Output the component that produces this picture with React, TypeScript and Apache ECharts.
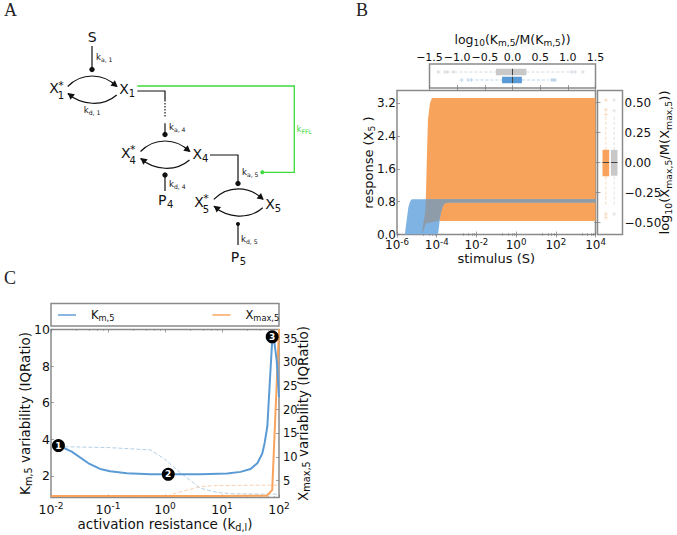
import React, { useEffect, useRef } from "react";
import * as echarts from "echarts";

const FONT = "DejaVu Sans";
const BLUE = "#5b9bd5";
const LIGHT_BLUE = "#7fb3e3";
const ORANGE = "#f7a35c";
const GREY = "#c8c8c8";
const OVERLAP = "#8e9ba8";
const FRAME = "#8a8a8a";
const GREEN = "#3ddc3d";
const INK = "#111";

// Panel B: response bands, rows of [stimulus, low, high]
const orangeBand = [[1.82e-5,0,0],[2.16e-5,0.1,0.3],[2.57e-5,0.2,0.5],[2.88e-5,0.27,1.0],[3.24e-5,0.3,2.0],[3.63e-5,0.32,2.8],[4.57e-5,0.33,3.2],[5.75e-5,0.33,3.33],[1e4,0.33,3.33]];
const blueBand = [[2.5e-6,0,0],[2.8e-6,0,0.2],[3.7e-6,0,0.65],[4.5e-6,0,0.8],[5.5e-6,0,0.86],[1.17e-4,0,0.86],[1.48e-4,0.42,0.86],[1.66e-4,0.55,0.86],[2.09e-4,0.7,0.86],[2.63e-4,0.76,0.86],[3.72e-4,0.78,0.86],[1e4,0.78,0.86]];
const overlapBand = [[1.82e-5,0,0],[2.16e-5,0.1,0.3],[2.57e-5,0.2,0.5],[2.88e-5,0.27,0.86],[1.17e-4,0.33,0.86],[1.48e-4,0.42,0.86],[1.66e-4,0.55,0.86],[2.09e-4,0.7,0.86],[2.63e-4,0.76,0.86],[3.72e-4,0.78,0.86],[1e4,0.78,0.86]];

// Panel B marginal boxes: [whiskerLow, q1, median, q3, whiskerHigh, row]
const kmBoxes = [[-1.05,-0.3,0,0.25,1.05,2],[-0.67,-0.19,0,0.17,0.65,1]];
const xmaxBoxes = [[-0.35,-0.115,0,0.106,0.38,1],[-0.35,-0.11,0,0.105,0.38,2]];
const kmFliersGrey = [[-1.34,2],[-1.22,2],[-1.17,2],[-1.07,2],[1.07,2],[1.13,2],[1.27,2]];
const kmFliersBlue = [[-0.92,1],[-0.8,1],[-0.74,1],[0.71,1],[0.74,1],[0.77,1]];
const xmaxFliersOrange = [[1,0.52],[1,0.44],[1,0.4],[1,-0.43],[1,-0.46]];
const xmaxFliersGrey = [[2,0.52],[2,0.43],[2,-0.43]];

// Panel C: curves, rows of [resistance, variability]
const kmCurve = [[0.0135,3.66],[0.0231,3.33],[0.0454,2.69],[0.0728,2.38],[0.109,2.25],[0.214,2.15],[0.552,2.09],[1.16,2.09],[4.17,2.09],[12.3,2.13],[21.1,2.22],[31.6,2.38],[41.7,2.69],[50.9,3.22],[56,3.8],[62.4,4.7],[69.2,7.2],[76,9.4],[81.3,9.5],[91.2,8.3],[100,6.3]];
const xmaxCurve = [[0.01,1.76],[1,1.76],[10,1.76],[61,1.8],[76,3],[100,37]];
const kmDashed = [[0.0135,3.6],[0.1,3.55],[0.552,3.42],[0.95,2.96],[1.9,2.15],[4.17,1.33],[8.3,1.09],[16.6,1.02],[100,1.0]];
const xmaxDashed = [[1.08,1.75],[1.9,2.67],[4.17,3.73],[7.2,3.94],[100,4.08]];
const markers = [[0.0135,3.66,"1"],[1.14,2.09,"2"],[76,9.6,"3"]];

const xTicksKm = [-1.5, -1, -0.5, 0, 0.5, 1, 1.5];
const yTicksB = [0, 0.8, 1.6, 2.4, 3.2];
const yTicksBoxB = [-0.5, -0.25, 0, 0.25, 0.5];
const yTicksKm = [2, 4, 6, 8, 10];
const yTicksXmax = [5, 10, 15, 20, 25, 30, 35];

const richTxt = (size: number, color = INK) => ({
  t: { fontFamily: FONT, fontSize: size, color, lineHeight: size + 3, verticalAlign: "middle" },
  s: { fontFamily: FONT, fontSize: size * 0.72, color, lineHeight: size * 0.72 + 1, verticalAlign: "bottom" },
  u: { fontFamily: FONT, fontSize: size * 0.72, color, lineHeight: size * 0.72 + 1, verticalAlign: "top" },
  p: { width: 10, fontSize: size },
});

const powLabel = (v: number) => `{t|10}{u|${Math.round(Math.log10(v))}}`;
const minus = (v: number, d: number) => (v < 0 ? "\u2212" : "") + Math.abs(v).toFixed(d);

function band(color: string, data: number[][], name: string) {
  return {
    type: "custom", name, xAxisIndex: 0, yAxisIndex: 0, clip: true, data,
    encode: { x: 0, y: [1, 2] },
    renderItem: (p: any, api: any) => {
      if (p.dataIndex !== 0) return null;
      const up = data.map((r) => api.coord([r[0], r[2]]));
      const dn = data.map((r) => api.coord([r[0], r[1]])).reverse();
      return { type: "polygon", shape: { points: [...up, ...dn] }, style: { fill: color } };
    },
  };
}

function boxes(rows: number[][], horizontal: boolean, colors: string[], wColors: string[], half: number, x: number, y: number) {
  return {
    type: "custom", name: horizontal ? "Km box" : "Xmax box", xAxisIndex: x, yAxisIndex: y, data: rows,
    renderItem: (p: any, api: any) => {
      const r = rows[p.dataIndex];
      const pt = (v: number, off: number) => (horizontal ? api.coord([v, r[5] + off]) : api.coord([r[5] + off, v]));
      const a = pt(r[1], -half), b = pt(r[3], half);
      const m1 = pt(r[2], -half), m2 = pt(r[2], half);
      const w1 = pt(r[0], 0), w2 = pt(r[1], 0), w3 = pt(r[3], 0), w4 = pt(r[4], 0);
      const ln = (u: number[], v: number[], style: any) => ({ type: "line", shape: { x1: u[0], y1: u[1], x2: v[0], y2: v[1] }, style });
      const dash = { stroke: wColors[p.dataIndex], lineWidth: 0.8, lineDash: [3, 2] };
      return {
        type: "group",
        children: [
          ln(w1, w2, dash), ln(w3, w4, dash),
          { type: "rect", shape: { x: Math.min(a[0], b[0]), y: Math.min(a[1], b[1]), width: Math.abs(a[0] - b[0]), height: Math.abs(a[1] - b[1]) }, style: { fill: colors[p.dataIndex] } },
          ln(m1, m2, { stroke: "#444", lineWidth: 1 }),
        ],
      };
    },
  };
}

const plus = "path://M0 4H8M4 0V8";
const fliers = (data: number[][], color: string, x: number, y: number) => ({
  type: "scatter", name: "outliers", xAxisIndex: x, yAxisIndex: y, data, symbol: plus, symbolSize: 4,
  itemStyle: { color: "none", borderColor: color, borderWidth: 0.7, opacity: 1 },
});

const tick = { show: true, inside: true, length: 3, lineStyle: { color: "#777", width: 0.7 } };
const noLine = { show: false };
const nameFont = (size: number) => ({ fontFamily: FONT, fontSize: size, color: INK, rich: richTxt(size) });
const nameAt = (gap: number, size: number) => ({ nameLocation: "middle", nameGap: gap, nameMoveOverlap: false, nameTextStyle: nameFont(size) });

// Diagram helpers for panel A
const txt = (x: number, y: number, text: string, size = 14, color = INK, align = "center", serif = false) => ({
  type: "text", x, y,
  style: { text, fontFamily: serif ? "Liberation Serif" : FONT, fontSize: size, fill: color, align, verticalAlign: "middle", rich: richTxt(size, color) },
});
const seg = (pts: number[][], color = INK, w = 1.2, dash?: number[]) => ({
  type: "polyline", shape: { points: pts }, style: { stroke: color, lineWidth: w, fill: "none", lineDash: dash },
});
const dot = (x: number, y: number, r = 2.7, color = INK) => ({ type: "circle", shape: { cx: x, cy: y, r }, style: { fill: color } });
const curve = (x1: number, y1: number, x2: number, y2: number, bulge: number) => ({
  type: "bezierCurve",
  shape: { x1, y1, x2, y2, cpx1: x1 + (x2 - x1) * 0.28, cpy1: y1 + bulge, cpx2: x1 + (x2 - x1) * 0.72, cpy2: y2 + bulge },
  style: { stroke: INK, lineWidth: 1.2, fill: "none" },
});
const head = (x: number, y: number, dx: number, dy: number) => {
  const px = -dy * 0.55, py = dx * 0.55;
  return { type: "polygon", shape: { points: [[x, y], [x - dx + px, y - dy + py], [x - dx - px, y - dy - py]] }, style: { fill: INK } };
};
const cycle = (x: number, y: number) => [
  curve(x, y, x + 49, y, -14),
  head(x + 50, y + 0.5, 5, 4),
  curve(x + 49, y + 8.5, x, y + 7, 12),
  head(x, y + 6.5, -5, -4),
];
const active = (x: number, y: number, n: string) => [
  txt(x, y, "X", 14), txt(x + 7, y + 7.5, n, 10), txt(x + 7, y - 3, "*", 11),
];
const plain = (x: number, y: number, base: string, n: string) => [txt(x, y, base, 14), txt(x + 8, y + 4, n, 10)];

const diagram: any[] = [
  txt(4, 10, "A", 18, "#222", "left", true),
  txt(356, 10, "B", 18, "#222", "left", true),
  txt(4, 278, "C", 18, "#222", "left", true),
  txt(92.3, 36.7, "S", 14),
  seg([[92, 46], [92, 69]]), dot(92, 69.5),
  txt(96, 57, "{t|k}{s|a, 1}", 8.5, INK, "left"),
  ...active(54, 88, "1"), ...plain(124, 89, "X", "1"),
  ...cycle(67.7, 86.5),
  txt(92, 110, "{t|k}{s|d, 1}", 8.5),
  seg([[137.3, 86], [294.3, 86], [294.3, 172.3], [262.3, 172.3]], GREEN, 1.3), dot(262.3, 172.3, 2, GREEN),
  txt(296.5, 129, "{t|k}{s|FFL}", 8.5, GREEN, "left"),
  seg([[137.3, 91], [165, 91], [165, 100]]), seg([[165, 100], [165, 117]], INK, 1.2, [1.5, 1.5]),
  seg([[165, 123.3], [165, 134]]), dot(165, 134.5),
  txt(169, 127, "{t|k}{s|a, 4}", 8.5, INK, "left"),
  ...active(125.7, 152.7, "4"), ...plain(197.3, 154, "X", "4"),
  ...cycle(140.5, 151.5),
  seg([[210, 155], [238, 155], [238, 183]]), dot(238, 183.5),
  txt(242, 172, "{t|k}{s|a, 5}", 8.5, INK, "left"),
  dot(165, 175), seg([[165, 175], [165, 191]]),
  ...plain(162.3, 200, "P", "4"),
  txt(169, 184, "{t|k}{s|d, 4}", 8.5, INK, "left"),
  ...active(199, 201.7, "5"), ...plain(270, 204.3, "X", "5"),
  ...cycle(213.8, 199.3),
  dot(238, 224, 2), seg([[238, 224], [238, 245]]),
  txt(241, 239, "{t|k}{s|d, 5}", 8.5, INK, "left"),
  ...plain(235, 257.3, "P", "5"),
  { type: "rect", shape: { x: 51, y: 303.5, width: 228, height: 22.5 }, style: { fill: "none", stroke: FRAME, lineWidth: 1.5 } },
];

export default function App() {
  const ref = useRef<HTMLDivElement>(null);
  useEffect(() => {
    document.body.style.margin = "0";
    const chart = echarts.init(ref.current!, undefined, { renderer: "svg" });
    const frame = { show: true, borderColor: FRAME, borderWidth: 1.5, backgroundColor: "transparent", outerBoundsMode: "none" };
    const xLog = (min: number, max: number, grid: number, logBase: number, size: number, margin: number, extra: any = {}) => ({
      type: "log", logBase, min, max, gridIndex: grid, position: "bottom",
      axisLine: noLine, axisTick: tick, minorTick: { show: true, splitNumber: 5, length: 1.5, lineStyle: { color: "#777", width: 0.5 } },
      splitLine: { show: false }, minorSplitLine: { show: false },
      axisLabel: { show: true, formatter: powLabel, margin, rich: richTxt(size), fontFamily: FONT, fontSize: size, hideOverlap: false },
      ...extra,
    });
    const yVal = (min: number, max: number, grid: number, ticks: number[], position: string, labels: boolean, d: number, margin: number, extra: any = {}) => ({
      type: "value", min, max, gridIndex: grid, position,
      axisLine: noLine, splitLine: { show: false },
      axisTick: { ...tick, customValues: ticks },
      axisLabel: { show: labels, customValues: ticks, formatter: (v: number) => minus(v, d), fontFamily: FONT, fontSize: 12, color: INK, margin, hideOverlap: false },
      ...extra,
    });
    chart.setOption({
      animation: false,
      backgroundColor: "#fff",
      grid: [
        { left: 397, top: 90.5, width: 198.5, height: 144, ...frame },
        { left: 429.5, top: 64, width: 166, height: 24, ...frame },
        { left: 597.5, top: 90.5, width: 25, height: 144, ...frame },
        { left: 51, top: 329.5, width: 228, height: 168, ...frame },
      ],
      xAxis: [
        xLog(1e-6, 1e4, 0, 100, 12, 3, { name: "stimulus (S)", ...nameAt(17, 13) }),
        xLog(1e-6, 1e4, 0, 100, 12, 3, { position: "top", axisLabel: { show: false } }),
        {
          type: "value", min: -1.5, max: 1.5, interval: 0.5, gridIndex: 1, position: "top",
          axisLine: noLine, axisTick: tick, splitLine: { show: false },
          axisLabel: { customValues: xTicksKm, formatter: (v: number) => minus(v, 1), fontFamily: FONT, fontSize: 11, color: INK, margin: 1, hideOverlap: false },
          name: "{t|log}{s|10}{t|(K}{s|m,5}{t|/M(K}{s|m,5}{t|))}", ...nameAt(17, 12.5),
        },
        { type: "value", min: -1.5, max: 1.5, interval: 0.5, gridIndex: 1, position: "bottom", axisLine: noLine, axisTick: tick, axisLabel: { show: false }, splitLine: { show: false } },
        { type: "value", min: 0, max: 3, gridIndex: 2, show: false },
        xLog(0.01, 100, 3, 10, 12.5, 4, { name: "{t|activation resistance (k}{s|d,l}{t|)}", ...nameAt(18, 13.5) }),
        xLog(0.01, 100, 3, 10, 12.5, 4, { position: "top", axisLabel: { show: false } }),
      ],
      yAxis: [
        yVal(0, 3.51, 0, yTicksB, "left", true, 1, 1, { name: "{t|response (X}{s|5}{t| )}", ...nameAt(21, 13) }),
        yVal(0, 3.51, 0, yTicksB, "right", false, 1, 1),
        { type: "value", min: 0, max: 3, gridIndex: 1, show: false },
        yVal(-0.6, 0.6, 2, yTicksBoxB, "right", true, 2, 2, { name: "{t|log}{s|10}{t|(X}{s|max,5}{t|/M(X}{s|max,5}{t|))}", ...nameAt(34, 13), nameRotate: 90 }),
        yVal(-0.6, 0.6, 2, yTicksBoxB, "left", false, 2, 2),
        yVal(0.82, 10, 3, yTicksKm, "left", true, 0, 1, { name: "{t|K}{s|m,5}{t| variability (IQRatio)}", ...nameAt(18, 13.5), axisLabel: { customValues: yTicksKm, formatter: (v: number) => String(v), fontFamily: FONT, fontSize: 12.5, color: INK, margin: 1, hideOverlap: false } }),
        yVal(1.44, 36.9, 3, yTicksXmax, "right", true, 0, 4, { name: "{t|X}{s|max,5}{t| variability (IQRatio)}", ...nameAt(16, 13.5), nameRotate: 90, axisLabel: { customValues: yTicksXmax, formatter: (v: number) => String(v), fontFamily: FONT, fontSize: 11.5, color: INK, margin: 4, hideOverlap: false } }),
      ],
      legend: {
        left: 53, top: 304, itemWidth: 18, itemHeight: 14, itemGap: 98, icon: "path://M0 6.2H20V7.8H0Z", data: ["Km,5", "Xmax,5"],
        formatter: (n: string) => (n === "Km,5" ? "{p| }{t|K}{s|m,5}" : "{p| }{t|X}{s|max,5}"),
        textStyle: { fontFamily: FONT, fontSize: 11.5, color: INK, rich: richTxt(11.5) },
      },
      graphic: { elements: diagram },
      series: [
        band(ORANGE, orangeBand, "Xmax band"),
        band(LIGHT_BLUE, blueBand, "Km band"),
        band(OVERLAP, overlapBand, "overlap"),
        boxes(kmBoxes, true, [GREY, BLUE], ["#c8d0d8", "#a9c8e6"], 0.4, 2, 2),
        fliers(kmFliersGrey, "#c8d0d8", 2, 2),
        fliers(kmFliersBlue, "#a9c8e6", 2, 2),
        boxes(xmaxBoxes, false, [ORANGE, GREY], ["#f8cfa8", "#d8d8d8"], 0.4, 4, 3),
        fliers(xmaxFliersOrange, "#f8cfa8", 4, 3),
        fliers(xmaxFliersGrey, "#d8d8d8", 4, 3),
        { type: "line", name: "Km dashed", xAxisIndex: 5, yAxisIndex: 5, data: kmDashed, showSymbol: false, lineStyle: { color: "#9fc3de", width: 0.8, type: [4, 2] }, itemStyle: { color: "#9fc3de" } },
        { type: "line", name: "Xmax dashed", xAxisIndex: 5, yAxisIndex: 6, data: xmaxDashed, showSymbol: false, lineStyle: { color: "#f6c79d", width: 0.8, type: [4, 2] }, itemStyle: { color: "#f6c79d" } },
        { type: "line", name: "Xmax,5", xAxisIndex: 5, yAxisIndex: 6, data: xmaxCurve, showSymbol: false, lineStyle: { color: ORANGE, width: 2 }, itemStyle: { color: ORANGE } },
        { type: "line", name: "Km,5", xAxisIndex: 5, yAxisIndex: 5, data: kmCurve, showSymbol: false, lineStyle: { color: BLUE, width: 2 }, itemStyle: { color: BLUE } },
        {
          type: "scatter", name: "conditions", xAxisIndex: 5, yAxisIndex: 5, data: markers, symbolSize: 13, z: 5, clip: false,
          itemStyle: { color: "#000", opacity: 1 },
          label: { show: true, position: "inside", formatter: (p: any) => p.value[2], color: "#fff", fontFamily: FONT, fontSize: 9, fontWeight: "bold" },
        },
      ],
    });
    return () => chart.dispose();
  }, []);
  return <div ref={ref} style={{ width: 677, height: 535 }} />;
}
